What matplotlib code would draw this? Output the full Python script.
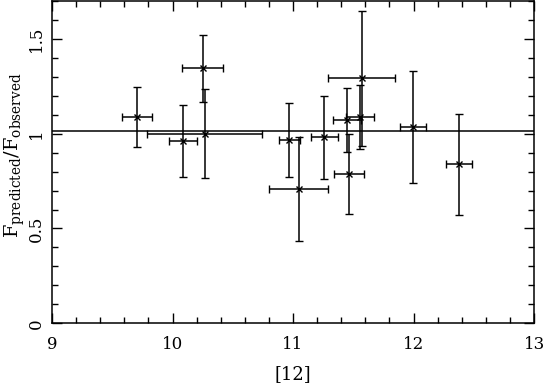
import matplotlib
matplotlib.use("Agg")
import matplotlib.pyplot as plt
from matplotlib.ticker import MultipleLocator

# data
x_vals = [9.708, 10.09, 10.25, 10.267, 10.967, 11.047, 11.26, 11.446, 11.462, 11.556, 11.57, 11.996, 12.378]
y_vals = [1.087, 0.959, 1.344, 1.0, 0.968, 0.708, 0.981, 1.07, 0.786, 1.087, 1.291, 1.035, 0.838]
x_err = [0.125, 0.116, 0.17, 0.475, 0.087, 0.247, 0.114, 0.115, 0.125, 0.117, 0.28, 0.11, 0.105]
y_err = [0.158, 0.19, 0.175, 0.233, 0.196, 0.275, 0.218, 0.168, 0.21, 0.17, 0.358, 0.293, 0.267]
mean_ratio = 1.013

plt.rcParams['font.family'] = ['DejaVu Serif']
plt.rcParams['mathtext.fontset'] = 'dejavuserif'

fig = plt.figure(figsize=(5.45, 3.84), dpi=100)
ax = fig.add_axes([0.0954, 0.158, 0.8846, 0.8398])

ax.errorbar(x_vals, y_vals, xerr=x_err, yerr=y_err, fmt='x', color='black',
            ms=5, mew=1.0, elinewidth=1.1, capsize=3, capthick=1.1)
ax.axhline(mean_ratio, color='black', lw=1.1)

ax.set_xlim(9, 13)
ax.set_ylim(0, 1.7)
ax.xaxis.set_major_locator(MultipleLocator(1))
ax.xaxis.set_minor_locator(MultipleLocator(0.2))
ax.yaxis.set_major_locator(MultipleLocator(0.5))
ax.yaxis.set_minor_locator(MultipleLocator(0.1))
ax.tick_params(which='both', direction='in', top=True, right=True, width=1.0,
               labelsize=12, colors='black')
ax.tick_params(which='major', length=7)
ax.tick_params(which='minor', length=4)
ax.tick_params(axis='x', pad=9)
ax.tick_params(axis='y', pad=5)
ax.set_yticks([0, 0.5, 1, 1.5])
ax.set_yticklabels(['0', '0.5', '1', '1.5'], rotation=90, va='center')
for sp in ax.spines.values():
    sp.set_linewidth(1.1)

ax.set_xlabel('[12]', fontsize=13, labelpad=9)
ax.set_ylabel(r'$\mathrm{F_{predicted}/F_{observed}}$', fontsize=14, va='center')
ax.yaxis.set_label_coords(-0.077, 0.52)

fig.savefig('out.png', dpi=100)
